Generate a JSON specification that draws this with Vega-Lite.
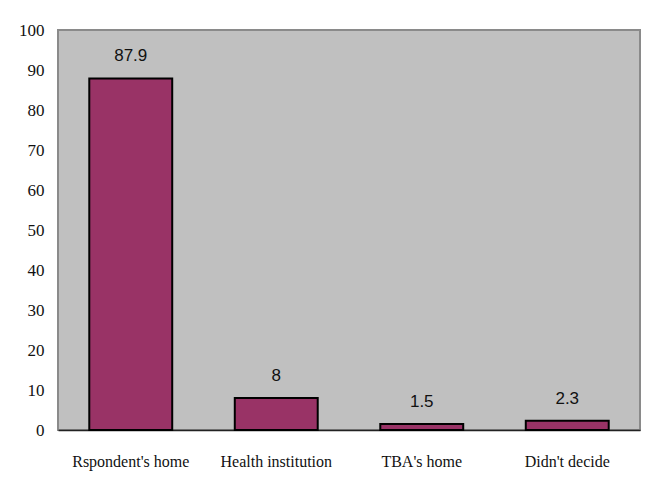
{
  "$schema": "https://vega.github.io/schema/vega-lite/v6.json",
  "width": 582,
  "height": 400,
  "autosize": {"type": "none"},
  "padding": {"left": 58, "top": 30, "right": 22, "bottom": 74},
  "background": "white",
  "view": {"fill": "#c0c0c0", "stroke": "#8a8a8a", "strokeWidth": 2},
  "data": {
    "values": [
      {"place": "Rspondent's home", "pct": 87.9, "label": "87.9"},
      {"place": "Health institution", "pct": 8, "label": "8"},
      {"place": "TBA's home", "pct": 1.5, "label": "1.5"},
      {"place": "Didn't decide", "pct": 2.3, "label": "2.3"}
    ]
  },
  "encoding": {
    "x": {
      "field": "place", "type": "nominal", "sort": null,
      "scale": {"paddingInner": 0.43, "paddingOuter": 0.215},
      "axis": {
        "title": null, "labelAngle": 0, "labelFont": "Liberation Serif, serif", "labelFontSize": 16,
        "labelColor": "#111", "labelPadding": 23, "ticks": false, "domainColor": "#222", "domainWidth": 1.5
      }
    },
    "y": {
      "field": "pct", "type": "quantitative",
      "scale": {"domain": [0, 100], "nice": false},
      "axis": {
        "title": null, "values": [0,10,20,30,40,50,60,70,80,90,100], "grid": false,
        "labelFont": "Liberation Serif, serif", "labelFontSize": 17, "labelColor": "#111",
        "labelPadding": 14, "ticks": false, "domain": false
      }
    }
  },
  "layer": [
    {"mark": {"type": "bar", "color": "#993366", "stroke": "#000", "strokeWidth": 2}},
    {
      "mark": {"type": "text", "dy": -22, "font": "Liberation Sans, sans-serif", "fontSize": 17, "color": "#111"},
      "encoding": {"text": {"field": "label"}}
    }
  ]
}
